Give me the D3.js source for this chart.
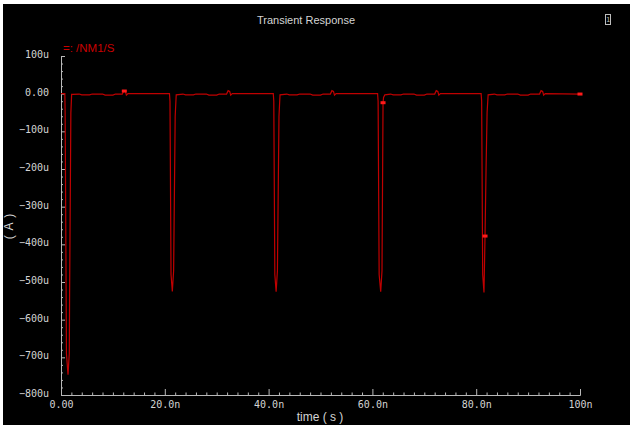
<!DOCTYPE html>
<html>
<head>
<meta charset="utf-8">
<script src="https://cdn.jsdelivr.net/npm/d3@7"></script>
<style>
  html, body { margin: 0; padding: 0; background: #ffffff; }
  svg { display: block; }
</style>
</head>
<body>
<script>
// ---- data (time in ns, current in uA) ----
const timeNs = [
  0, 0.74, 0.80, 1.05, 1.35, 1.60, 1.65, 1.90, 2.05, 2.3,
  3.5, 4.0, 5.5, 6.0, 8.0, 8.5, 10.0, 10.5, 11.8, 12.1, 12.4, 12.6, 12.9,
  20.9, 21.0, 21.2, 21.45, 21.7, 22.0, 22.2,
  23.5, 24.0, 25.5, 26.0, 28.0, 28.5, 30.0, 30.5, 31.9, 32.2, 32.5, 32.7, 33.0,
  40.9, 41.0, 41.2, 41.45, 41.7, 42.0, 42.2,
  43.5, 44.0, 45.5, 46.0, 48.0, 48.5, 50.0, 50.5, 51.9, 52.2, 52.5, 52.7, 53.0,
  61.0, 61.1, 61.3, 61.6, 61.85, 62.05, 62.15, 62.4,
  63.5, 64.0, 65.5, 66.0, 68.0, 68.5, 70.0, 70.5, 72.0, 72.3, 72.6, 72.8, 73.1,
  80.95, 81.05, 81.25, 81.5, 81.7, 81.9, 82.1, 82.3,
  83.5, 84.0, 85.5, 86.0, 88.0, 88.5, 90.0, 90.5, 92.2, 92.5, 92.8, 93.0, 93.3,
  100
];
const currentUA = [
  0, 0, -50, -690, -746, -690, -548, -51, -2, -2,
  -1, -3, -3, -1, -1, -4, -4, -1, -1, 8, 6, -4, 0,
  0, -20, -480, -525, -470, -60, -3,
  -1, -3, -3, -1, -1, -4, -4, -1, -1, 8, 6, -4, 0,
  0, -20, -480, -526, -470, -60, -3,
  -1, -3, -3, -1, -1, -4, -4, -1, -1, 8, 6, -4, 0,
  0, -20, -480, -526, -470, -24, -10, -3,
  -1, -3, -3, -1, -1, -4, -4, -1, -1, 8, 6, -4, 0,
  0, -20, -480, -528, -378, -200, -50, -3,
  -1, -3, -3, -1, -1, -4, -4, -1, -1, 8, 6, -4, 0,
  -1
];
const markerTimeNs = [12.2, 62.05, 81.7, 100];
const markerUA = [7, -24, -378, -1];

const xTickValues = [0, 20, 40, 60, 80, 100];
const xTickLabels = ["0.00", "20.0n", "40.0n", "60.0n", "80.0n", "100n"];
const yTickValues = [100, 0, -100, -200, -300, -400, -500, -600, -700, -800];
const yTickLabels = ["100u", "0.00", "\u2212100u", "\u2212200u", "\u2212300u", "\u2212400u",
                     "\u2212500u", "\u2212600u", "\u2212700u", "\u2212800u"];

const titleText = "Transient Response";
const legendText = "=: /NM1/S";
const xLabel = "time ( s )";
const yLabel = "( A )";

// ---- layout ----
const W = 630, H = 425;
const plot = { left: 61, right: 580, top: 56, bottom: 395 };
const axisColor = "#b8b8b8";
const textColor = "#d4d4d4";
const traceColor = "#c00000";
const mono = "'DejaVu Sans Mono', monospace";
const sans = "'Liberation Sans', Arial, sans-serif";

const svg = d3.select("body").append("svg").attr("width", W).attr("height", H);
svg.append("rect").attr("x", 3).attr("y", 4).attr("width", W - 3).attr("height", H - 4).attr("fill", "#000");

const x = d3.scaleLinear().domain([0, 100]).range([plot.left, plot.right]);
const y = d3.scaleLinear().domain([-800, 100]).range([plot.bottom, plot.top]);

// minor ticks
const xMinor = d3.range(0, 100.01, 2).filter(v => !xTickValues.includes(v));
const yMinor = d3.range(-800, 100.01, 20).filter(v => !yTickValues.includes(v));

const gxMinor = svg.append("g").attr("transform", `translate(0,${plot.bottom})`)
  .call(d3.axisBottom(x).tickValues(xMinor).tickSize(-2.5).tickSizeOuter(0).tickFormat(""));
const gyMinor = svg.append("g").attr("transform", `translate(${plot.left},0)`)
  .call(d3.axisLeft(y).tickValues(yMinor).tickSize(-2).tickSizeOuter(0).tickFormat(""));

const gx = svg.append("g").attr("transform", `translate(0,${plot.bottom})`)
  .call(d3.axisBottom(x).tickValues(xTickValues).tickSize(-6).tickSizeOuter(0).tickPadding(6)
    .tickFormat((d, i) => xTickLabels[i]));
const gy = svg.append("g").attr("transform", `translate(${plot.left},0)`)
  .call(d3.axisLeft(y).tickValues(yTickValues).tickSize(-4).tickSizeOuter(0).tickPadding(12)
    .tickFormat((d, i) => yTickLabels[i]));

[gx, gy, gxMinor, gyMinor].forEach(g => {
  g.selectAll("path.domain").attr("stroke", axisColor).attr("stroke-width", 1);
  g.selectAll(".tick line").attr("stroke", axisColor).attr("stroke-width", 1);
  g.selectAll("text").attr("fill", textColor).attr("font-family", mono).attr("font-size", 10);
});
gy.selectAll("text").attr("dy", "0.15em");

// trace
const pts = timeNs.map((t, i) => [t, currentUA[i]]);
const line = d3.line().x(d => x(d[0])).y(d => y(d[1]));
svg.append("path").datum(pts).attr("d", line)
  .attr("fill", "none").attr("stroke", traceColor).attr("stroke-width", 1.2)
  .attr("stroke-linejoin", "miter");

// markers
svg.append("g").selectAll("rect").data(markerTimeNs.map((t, i) => [t, markerUA[i]]))
  .join("rect")
  .attr("x", d => x(d[0]) - 2.5).attr("y", d => y(d[1]) - 1.5)
  .attr("width", 5).attr("height", 3).attr("fill", "#ff1a1a");

// texts
svg.append("text").attr("x", 306).attr("y", 24).attr("text-anchor", "middle")
  .attr("fill", textColor).attr("font-family", sans).attr("font-size", 11).text(titleText);
svg.append("text").attr("x", 63).attr("y", 52)
  .attr("fill", "#c80000").attr("font-family", sans).attr("font-size", 11.5).text(legendText);
svg.append("text").attr("x", 320).attr("y", 421).attr("text-anchor", "middle")
  .attr("fill", textColor).attr("font-family", sans).attr("font-size", 12).text(xLabel);
svg.append("text").attr("transform", "translate(13,226) rotate(-90)").attr("text-anchor", "middle")
  .attr("fill", textColor).attr("font-family", sans).attr("font-size", 12)
  .attr("letter-spacing", 1).text(yLabel);

// small icon top-right
svg.append("rect").attr("x", 605.5).attr("y", 14.5).attr("width", 5).attr("height", 10)
  .attr("fill", "none").attr("stroke", "#bdbdbd").attr("stroke-width", 1);
svg.append("text").attr("x", 608).attr("y", 22).attr("text-anchor", "middle")
  .attr("fill", "#bdbdbd").attr("font-family", mono).attr("font-size", 7).text("1");
</script>
</body>
</html>
